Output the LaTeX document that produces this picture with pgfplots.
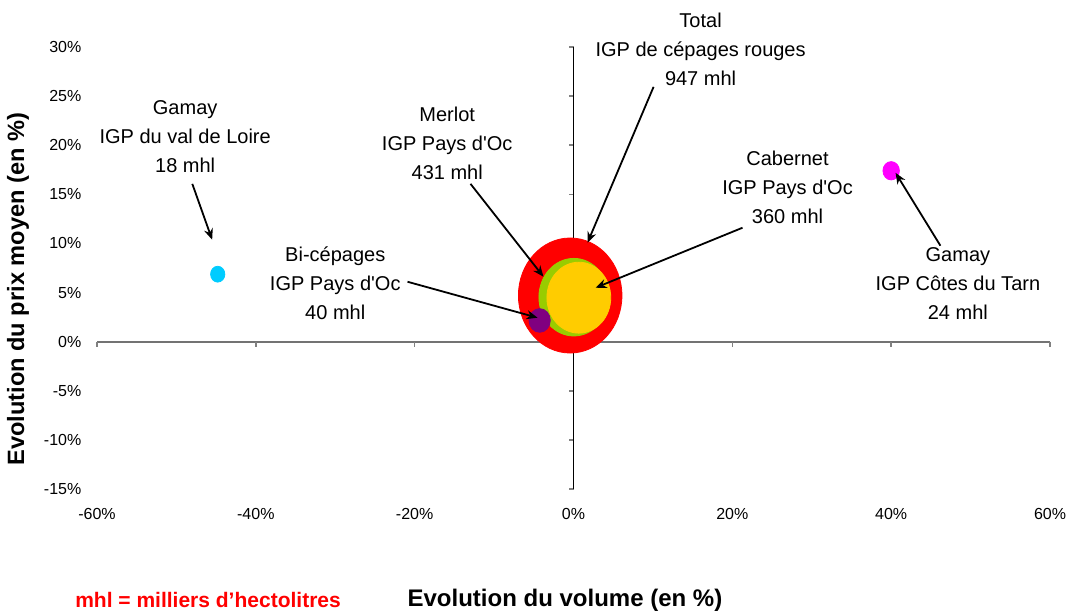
\documentclass[border=0pt]{standalone}
\usepackage{fontspec}
\setmainfont{Liberation Sans}
\usepackage{pgfplots}
\pgfplotsset{compat=1.18}
\usetikzlibrary{arrows.meta}

\definecolor{bRed}{HTML}{FF0000}
\definecolor{bGreen}{HTML}{99CC00}
\definecolor{bYellow}{HTML}{FFCC00}
\definecolor{bPurple}{HTML}{800080}
\definecolor{bCyan}{HTML}{00CCFF}
\definecolor{bMagenta}{HTML}{FF00FF}

% bubble radius (pt) ~ sqrt(volume)
\newcommand{\bub}[1]{0.9345*sqrt(#1)}
\newcommand{\oc}{d\textquotesingle Oc}

\begin{document}
\begin{tikzpicture}
\begin{axis}[
  name=ax,
  set layers,
  scale only axis,
  width=476.5pt, height=221pt,
  xmin=-60, xmax=60, ymin=-15, ymax=30,
  axis x line*=bottom, axis y line*=left,
  axis line style={draw=none},
  major tick length=0pt,
  xtick={-60,-40,...,60},
  xticklabels={-60\%,-40\%,-20\%,0\%,20\%,40\%,60\%},
  ytick={-15,-10,...,30},
  yticklabels={-15\%,-10\%,-5\%,0\%,5\%,10\%,15\%,20\%,25\%,30\%},
  ticklabel style={font=\fontsize{8}{9}\selectfont},
  yticklabel style={xshift=-4.3pt},
  xticklabel style={yshift=-6pt},
  xlabel={\textbf{Evolution du volume (en \%)}},
  ylabel={\textbf{Evolution du prix moyen (en \%)}},
  xlabel style={at={(axis description cs:0.491,-0.251)}, anchor=center, font=\fontsize{12}{14}\selectfont},
  ylabel style={at={(axis description cs:-0.083,0.452)}, anchor=center, font=\fontsize{11.8}{14}\selectfont},
  clip=false,
]

% middle axes
\begin{pgfonlayer}{axis background}
\draw[gray!90!black, line width=0.9pt] (axis cs:-60,0) -- (axis cs:60,0);
\pgfplotsinvokeforeach{-60,-40,-20,0,20,40,60}{
  \draw[gray, line width=0.8pt] (axis cs:#1,0) -- ++(0pt,-2.5pt);
}
\pgfplotsinvokeforeach{-15,-10,-5,5,10,15,20,25,30}{
  \draw[gray, line width=0.8pt] (axis cs:0,#1) -- ++(-2.5pt,0pt);
}
\draw[black, line width=0.8pt] (axis cs:0,-15) -- (axis cs:0,30);
\end{pgfonlayer}

% Total IGP de cepages rouges, 947 mhl
\addplot[only marks, mark=*, color=bRed, mark size={\bub{947}}, mark options={xscale=0.9}] coordinates {(-0.42,4.7)};
% Merlot, 431 mhl
\addplot[only marks, mark=*, color=bGreen, mark size={\bub{431}}, mark options={xscale=0.9}] coordinates {(0.04,4.53)};
% Cabernet, 360 mhl
\addplot[only marks, mark=*, color=bYellow, mark size={\bub{360}}, mark options={xscale=0.9}] coordinates {(0.67,4.48)};
% Bi-cepages, 40 mhl
\addplot[only marks, mark=*, color=bPurple, mark size={\bub{40}}, mark options={xscale=0.9}] coordinates {(-4.26,2.16)};
% Gamay val de Loire, 18 mhl
\addplot[only marks, mark=*, color=bCyan, mark size={\bub{18}}, mark options={xscale=0.9}] coordinates {(-44.8,6.87)};
% Gamay Cotes du Tarn, 24 mhl
\addplot[only marks, mark=*, color=bMagenta, mark size={\bub{24}}, mark options={xscale=0.9}] coordinates {(40.0,17.4)};

% annotations
\tikzset{lbl/.style={align=center, font=\fontsize{10}{14.5}\selectfont},
         arr/.style={-{Stealth[length=5.5pt,width=4.5pt]}, line width=0.9pt}}
\begin{pgfonlayer}{axis foreground}
\node[lbl] at (axis cs:-48.9,20.85) {Gamay\\IGP du val de Loire\\18 mhl};
\draw[arr] (axis cs:-48.0,16.07) -- (axis cs:-45.5,10.38);

\node[lbl] at (axis cs:-15.9,20.2) {Merlot\\IGP Pays \oc\\431 mhl};
\draw[arr] (axis cs:-12.97,16.07) -- (axis cs:-3.78,6.61);

\node[lbl] at (axis cs:16.0,29.8) {Total\\IGP de cépages rouges\\947 mhl};
\draw[arr] (axis cs:10.08,25.94) -- (axis cs:1.76,10.07);

\node[lbl] at (axis cs:26.95,15.7) {Cabernet\\IGP Pays \oc\\360 mhl};
\draw[arr] (axis cs:21.28,11.6) -- (axis cs:2.77,5.49);

\node[lbl] at (axis cs:-30.0,5.9) {Bi-cépages\\IGP Pays \oc\\40 mhl};
\draw[arr] (axis cs:-20.9,6.1) -- (axis cs:-4.53,2.44);

\node[lbl] at (axis cs:48.4,5.9) {Gamay\\IGP Côtes du Tarn\\24 mhl};
\draw[arr] (axis cs:46.2,9.77) -- (axis cs:40.55,17.19);
\end{pgfonlayer}

\node[text=bRed, font=\bfseries\fontsize{10.5}{12}\selectfont, anchor=center]
  at (axis description cs:0.1165,-0.251) {mhl = milliers d’hectolitres};
\end{axis}
\pgfresetboundingbox
\path ([xshift=-48.5pt,yshift=-61pt]ax.south west) rectangle ([xshift=10.5pt,yshift=23.5pt]ax.north east);
\end{tikzpicture}
\end{document}
